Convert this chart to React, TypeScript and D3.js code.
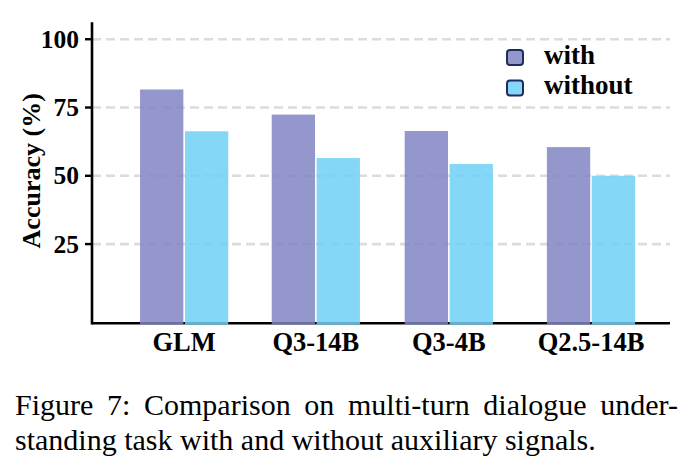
import React, { useLayoutEffect, useRef, useState } from "react";
import * as d3 from "d3";

const categories = ["GLM", "Q3-14B", "Q3-4B", "Q2.5-14B"];
const groupPos = [0, 1, 2.01, 3.09];
const seriesNames = ["with", "without"];
const withValues = [81.6, 72.4, 66.4, 60.5];
const withoutValues = [66.3, 56.5, 54.3, 50.0];
const yTicks = [25, 50, 75, 100];
const seriesColors = ["#8185c2", "#6ed0f6"];
const captionLines = [
  "Figure 7: Comparison on multi-turn dialogue under-",
  "standing task with and without auxiliary signals.",
];

const W = 694;
const H = 472;
const serif = { fontFamily: "Liberation Serif" };
const serifBold = { fontFamily: "Liberation Serif", fontWeight: 700 as const };

export default function App() {
  const left = 92;
  const right = 670;
  const top = 22.3;
  const bottom = 323.3;

  const capRef = useRef<SVGTextElement | null>(null);
  const [wordSp, setWordSp] = useState(0);
  const targetWidth = 663;

  useLayoutEffect(() => {
    const el = capRef.current;
    if (!el) return;
    const natural = el.getComputedTextLength();
    const spaces = captionLines[0].split(" ").length - 1;
    setWordSp(Math.max(0, (targetWidth - natural) / spaces));
  }, []);

  const x = d3.scaleLinear().domain([-0.7, 3.69]).range([left, right]);
  const y = d3.scaleLinear().domain([-4, 106.2]).range([bottom, top]);
  const barW = x(0.329) - x(0);
  const gap = 1.6;
  const series = [withValues, withoutValues];

  return (
    <svg
      width={W}
      height={H}
      style={{ position: "absolute", left: 0, top: 0, display: "block", background: "#fff" }}
    >
      {/* grid */}
      {yTicks.map((t) => (
        <line
          key={"g" + t}
          x1={left}
          x2={right}
          y1={y(t)}
          y2={y(t)}
          stroke="#dcdcdc"
          strokeWidth={2.6}
          strokeDasharray="9,5"
        />
      ))}
      {/* x axis spine */}
      <line x1={left} x2={right} y1={bottom} y2={bottom} stroke="#000" strokeWidth={2.6} />
      {/* bars */}
      {categories.map((c, i) => (
        <g key={c}>
          {series.map((vals, s) => {
            const cx = x(groupPos[i]);
            const bx = s === 0 ? cx - gap / 2 - barW : cx + gap / 2;
            return (
              <rect
                key={s}
                x={bx}
                y={y(vals[i])}
                width={barW}
                height={bottom + 1.3 - y(vals[i])}
                fill={seriesColors[s]}
                fillOpacity={0.85}
              />
            );
          })}
        </g>
      ))}
      {/* y axis spine */}
      <line x1={left} x2={left} y1={top} y2={bottom + 1.3} stroke="#000" strokeWidth={2.6} />
      {yTicks.map((t) => (
        <g key={"t" + t}>
          <line x1={left - 7} x2={left} y1={y(t)} y2={y(t)} stroke="#000" strokeWidth={2.4} />
          <text
            x={left - 13}
            y={y(t)}
            dy="0.34em"
            textAnchor="end"
            style={serifBold}
            fontSize={25.5}
            fill="#000"
          >
            {t}
          </text>
        </g>
      ))}
      {/* x labels */}
      {categories.map((c, i) => (
        <text
          key={"xl" + c}
          x={x(groupPos[i])}
          y={351}
          textAnchor="middle"
          style={serifBold}
          fontSize={26.5}
          fill="#000"
        >
          {c}
        </text>
      ))}
      {/* y label */}
      <text
        transform={`translate(40, ${(top + bottom) / 2 - 2}) rotate(-90)`}
        textAnchor="middle"
        style={serifBold}
        fontSize={26}
        fill="#000"
      >
        Accuracy (%)
      </text>
      {/* legend */}
      {seriesNames.map((n, s) => (
        <g key={n} transform={`translate(507, ${50 + s * 30.5})`}>
          <rect
            x={0}
            y={0}
            width={16}
            height={15}
            rx={3}
            fill={seriesColors[s]}
            fillOpacity={0.85}
            stroke="#1e2d5c"
            strokeWidth={2}
          />
          <text x={37} y={13.5} style={serifBold} fontSize={27} fill="#000">
            {n}
          </text>
        </g>
      ))}
      {/* caption */}
      <text
        ref={capRef}
        x={15}
        y={415}
        style={{ ...serif, wordSpacing: wordSp }}
        fontSize={30}
        fill="#000"
      >
        {captionLines[0]}
      </text>
      <text x={15} y={450} style={serif} fontSize={30} fill="#000">
        {captionLines[1]}
      </text>
    </svg>
  );
}
